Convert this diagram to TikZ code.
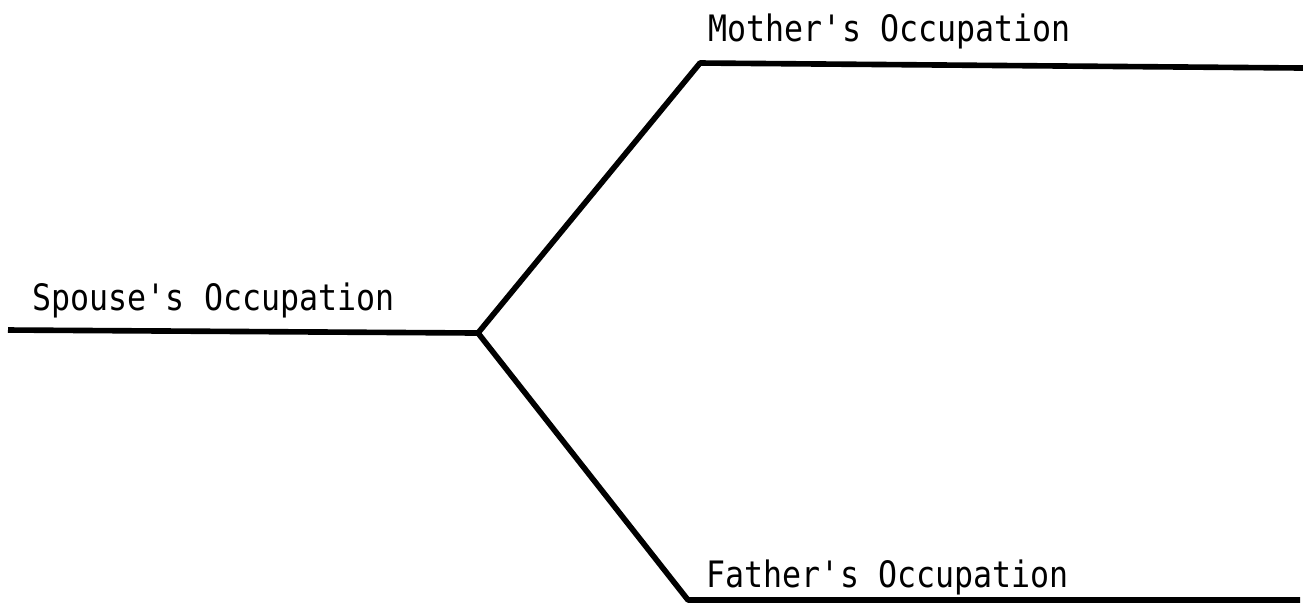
\documentclass[tikz,border=0pt]{standalone}
\usepackage{fontspec}
\setmonofont{DejaVu Sans Mono}
\usetikzlibrary{positioning}
\tikzset{branch/.style={black, line width=1.6pt, line join=round},
    occlabel/.style={font=\ttfamily\fontsize{9}{11}\selectfont, anchor=base west, inner sep=0pt,
        transform shape, yscale=1.15},
}

\begin{document}
\begin{tikzpicture}[x=1cm,y=1cm]
		\useasboundingbox (0,0) rectangle (13.03,-6.05);
		\coordinate (spouse start) at (0.08,-3.30);
		\coordinate (junction) at (4.78,-3.33);
		\coordinate (mother bend) at (7.00,-0.63);
		\coordinate (mother end) at (13.03,-0.68);
		\coordinate (father bend) at (6.88,-6.00);
		\coordinate (father end) at (13.0,-6.00);
		\draw[branch] (spouse start) -- (junction);
		\draw[branch] (junction) -- (mother bend) -- (mother end);
		\draw[branch] (junction) -- (father bend) -- (father end);
		\node[occlabel] (spouse) at (0.32,-3.10) {Spouse's Occupation};
		\node[occlabel] (mother) at (7.08,-0.41) {Mother's Occupation};
		\node[occlabel] (father) at (7.06,-5.87) {Father's Occupation};
\end{tikzpicture}
\end{document}
